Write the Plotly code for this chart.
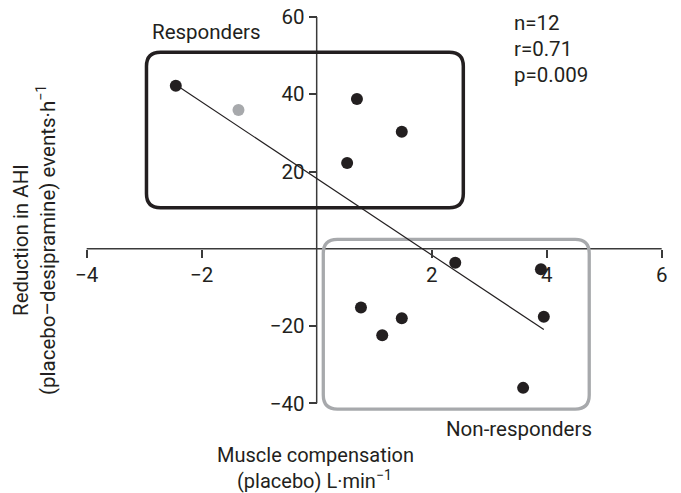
import plotly.graph_objects as go

# ---- data ----
resp_x = [-2.45, 0.70, 1.48, 0.53]
resp_y = [42.2, 38.8, 30.3, 22.2]
gray_x = [-1.36]
gray_y = [35.9]
nonresp_x = [2.41, 3.90, 0.77, 1.48, 1.14, 3.95, 3.59]
nonresp_y = [-3.6, -5.3, -15.2, -18.0, -22.4, -17.6, -36.0]
fit_slope = -9.9
fit_intercept = 18.2
x_ticks = [-4, -2, 2, 4, 6]
y_ticks = [-40, -20, 20, 40, 60]
stats_text = ["n=12", "r=0.71", "p=0.009"]

# ---- layout geometry ----
W, H = 681, 493
ML, MR, MT, MB = 70, 10, 5, 48
XR = [-4.290, 6.162]
YR = [-50.79, 63.11]
PW = W - ML - MR
PH = H - MT - MB

def px(x):
    return (x - ML) / PW

def py(y):
    return (H - MB - y) / PH

INK = "#231f20"
GRAY = "#a7a9ac"
FONT = "Roboto"
FS = 20.5

all_x = resp_x + gray_x + nonresp_x
x0f, x1f = min(all_x), max(all_x)

fig = go.Figure()
fig.add_trace(go.Scatter(x=[x0f, x1f],
                         y=[fit_intercept + fit_slope * x0f, fit_intercept + fit_slope * x1f],
                         mode="lines", line=dict(color=INK, width=1.2),
                         hoverinfo="skip", showlegend=False))
fig.add_trace(go.Scatter(x=gray_x, y=gray_y, mode="markers",
                         marker=dict(color=GRAY, size=12), showlegend=False))
fig.add_trace(go.Scatter(x=resp_x + nonresp_x, y=resp_y + nonresp_y, mode="markers",
                         marker=dict(color=INK, size=12), showlegend=False))


def rounded(x0, x1, y0, y1, rpx=14):
    rx = rpx * (XR[1] - XR[0]) / PW
    ry = rpx * (YR[1] - YR[0]) / PH
    return (f"M {x0+rx},{y1} L {x1-rx},{y1} Q {x1},{y1} {x1},{y1-ry} "
            f"L {x1},{y0+ry} Q {x1},{y0} {x1-rx},{y0} L {x0+rx},{y0} "
            f"Q {x0},{y0} {x0},{y0+ry} L {x0},{y1-ry} Q {x0},{y1} {x0+rx},{y1} Z")

shapes = [
    dict(type="line", xref="x", yref="y", x0=min(x_ticks), x1=max(x_ticks), y0=0, y1=0,
         line=dict(color="#3a3a3a", width=1.5), layer="below"),
    dict(type="line", xref="x", yref="y", x0=0, x1=0, y0=min(y_ticks), y1=max(y_ticks),
         line=dict(color="#3a3a3a", width=1.5), layer="below"),
    dict(type="path", xref="x", yref="y", path=rounded(-2.96, 2.55, 10.6, 50.9),
         line=dict(color=INK, width=3.5), layer="below"),
    dict(type="path", xref="x", yref="y", path=rounded(0.115, 4.74, -41.5, 2.46),
         line=dict(color=GRAY, width=3.3), layer="below"),
]

ann = []
def txt(t, x, y, xanchor="center", angle=0, size=FS):
    ann.append(dict(text=t, x=px(x), y=py(y), xref="paper", yref="paper",
                    xanchor=xanchor, yanchor="middle", showarrow=False,
                    textangle=angle, font=dict(family=FONT, size=size, color=INK)))

txt("Responders", 150, 32, "left")
for i, s in enumerate(stats_text):
    txt(s, 512, 23 + 26 * i, "left")
txt("Non-responders", 444, 429, "left")
txt("Muscle compensation", 315, 455, size=20)
txt("(placebo) L·min<sup>−1</sup>", 314, 480, size=20)
txt("Reduction in AHI", 21, 240, angle=-90)
txt("(placebo–desipramine) events·h<sup>−1</sup>", 46, 240, angle=-90)

fig.update_layout(
    width=W, height=H,
    margin=dict(l=ML, r=MR, t=MT, b=MB),
    paper_bgcolor="white", plot_bgcolor="white",
    shapes=shapes, annotations=ann,
    font=dict(family=FONT, size=FS, color=INK),
    xaxis=dict(range=XR, anchor="free", position=(0 - YR[0]) / (YR[1] - YR[0]),
               showline=False, showgrid=False, zeroline=False,
               tickvals=x_ticks, ticks="outside", ticklen=8, tickwidth=1.5,
               tickcolor="#3a3a3a", tickfont=dict(family=FONT, size=FS, color=INK)),
    yaxis=dict(range=YR, anchor="free", position=(0 - XR[0]) / (XR[1] - XR[0]),
               showline=False, showgrid=False, zeroline=False,
               tickvals=y_ticks, ticks="outside", ticklen=8, tickwidth=1.5,
               tickcolor="#3a3a3a", tickfont=dict(family=FONT, size=FS, color=INK)),
)

fig.write_html("out.html")
